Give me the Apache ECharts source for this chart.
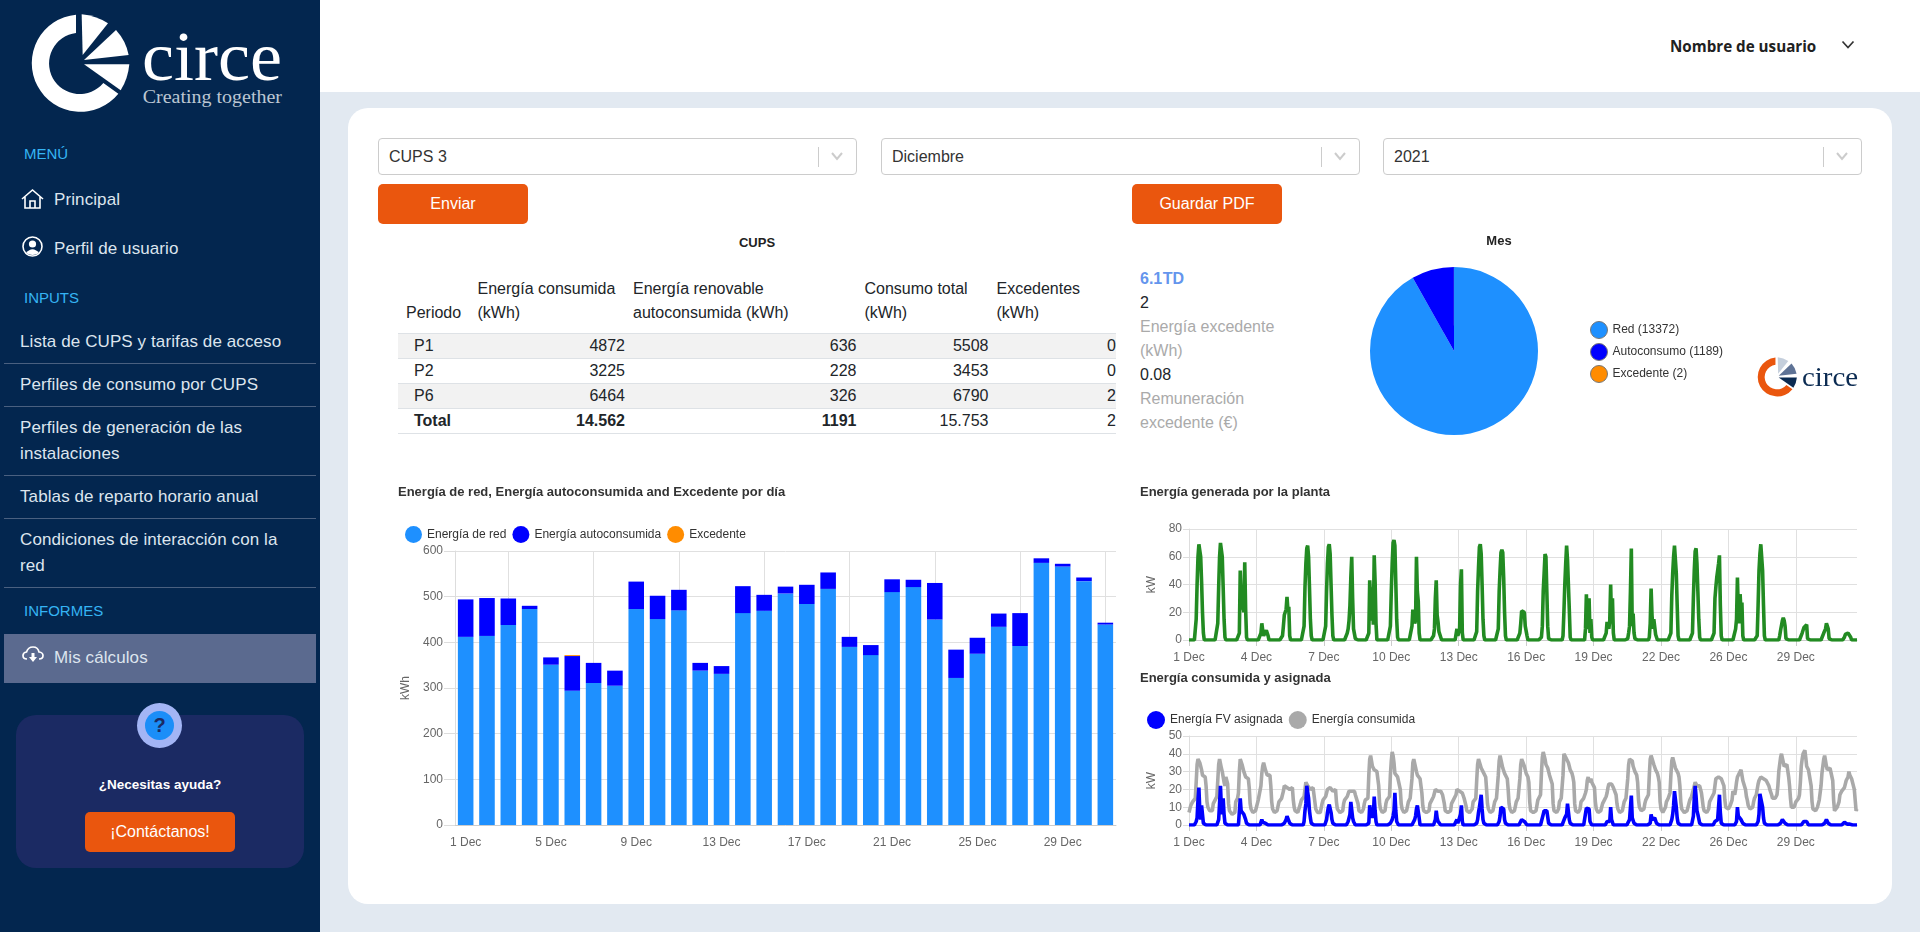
<!DOCTYPE html>
<html lang="es">
<head>
<meta charset="utf-8">
<title>circe</title>
<script src="https://cdn.jsdelivr.net/npm/echarts@6/dist/echarts.min.js"></script>
<style>
html, body { margin: 0; padding: 0; width: 1920px; height: 932px; overflow: hidden; background: #e2e9f1; font-family: "Liberation Sans", Arial, sans-serif; color: #212529; }
div, span, svg, table { position: absolute; }
td span, th span { position: static; }
.sidebar { left: 0; top: 0; width: 320px; height: 932px; background: #03264f; }
.head { left: 320px; top: 0; width: 1600px; height: 92px; background: #fff; }
.card { left: 348px; top: 108px; width: 1544px; height: 796px; background: #fff; border-radius: 20px; }
.sec { left: 24px; color: #35b4f4; font-size: 15px; line-height: 18px; white-space: nowrap; }
.nav { left: 20px; width: 296px; color: #dde5ee; font-size: 17px; letter-spacing: 0.1px; line-height: 25.5px; white-space: nowrap; }
.hr { left: 4px; width: 312px; height: 1px; background: #4a6080; }
.sel { height: 35px; top: 138px; width: 477px; border: 1px solid #ccc; border-radius: 4px; background: #fff; }
.sel b { position: absolute; left: 10px; top: 0; line-height: 35px; font-weight: normal; font-size: 16px; color: #333; }
.sel i { position: absolute; right: 37px; top: 8px; width: 1px; height: 20px; background: #ccc; }
.btn { top: 184px; height: 40px; line-height: 40px; text-align: center; color: #fff; font-size: 16px; background: #ea560e; border-radius: 5px; }
table { left: 398px; top: 277px; width: 718px; border-collapse: collapse; table-layout: fixed; font-size: 16px; color: #212529; }
th { font-weight: normal; text-align: left; padding: 0 0 0 8px; line-height: 24px; height: 56px; vertical-align: bottom; box-sizing: border-box; padding-bottom: 8px; }
td { text-align: right; padding: 0; height: 25px; line-height: 24px; box-sizing: border-box; border-top: 1px solid #dee2e6; }
td:first-child { text-align: left; padding-left: 16px; }
tr.odd td { background: #f2f2f2; }
tr.tot td { border-bottom: 1px solid #dee2e6; }
.info { left: 1140px; font-size: 16px; line-height: 24px; white-space: nowrap; }
.chart { background: transparent; }
</style>
</head>
<body>
<div class="sidebar"></div>
<div class="head"></div>
<div class="card"></div>

<svg style="left:20px;top:5px" width="280" height="120" viewBox="0 0 840 360">
  <path fill="#fff" d="M168 29 A146 146 0 1 0 295 266 L250 234 A92 92 0 1 1 168 84 Z"/>
  <path fill="#fff" d="M185 28 Q228 32 264 55 L188 150 Z"/>
  <path fill="#fff" d="M192 165 L288 75 Q318 108 326 150 Z"/>
  <path fill="#fff" d="M192 178 L328 178 Q324 222 302 256 Z"/>
  <text x="366" y="225" font-family="Liberation Serif" font-size="212" fill="#fff" textLength="420" lengthAdjust="spacingAndGlyphs">circe</text>
  <text x="368" y="295" font-family="Liberation Serif" font-size="56" fill="#bcc6d3" textLength="418" lengthAdjust="spacingAndGlyphs">Creating together</text>
</svg>

<div class="sec" style="top:145px">MENÚ</div>
<svg style="left:21px;top:188px" width="23" height="22" viewBox="0 0 23 22" fill="none" stroke="#fff" stroke-width="1.6"><path d="M1 11 L11.5 2 L22 11 M4 9 V20 H19 V9 M9 20 V13 H14 V20"/></svg>
<div class="nav" style="left:54px;top:187px">Principal</div>
<svg style="left:22px;top:236px" width="21" height="21" viewBox="0 0 21 21"><circle cx="10.5" cy="10.5" r="9.5" fill="none" stroke="#fff" stroke-width="1.6"/><circle cx="10.5" cy="8" r="3.6" fill="#fff"/><path fill="#fff" d="M4 17 Q10.5 9.5 17 17 Q10.5 21 4 17Z"/></svg>
<div class="nav" style="left:54px;top:236px">Perfil de usuario</div>
<div class="sec" style="top:289px">INPUTS</div>
<div class="nav" style="top:329px">Lista de CUPS y tarifas de acceso</div>
<div class="hr" style="top:363px"></div>
<div class="nav" style="top:372px">Perfiles de consumo por CUPS</div>
<div class="hr" style="top:406px"></div>
<div class="nav" style="top:415px">Perfiles de generación de las<br>instalaciones</div>
<div class="hr" style="top:475px"></div>
<div class="nav" style="top:484px">Tablas de reparto horario anual</div>
<div class="hr" style="top:518px"></div>
<div class="nav" style="top:527px">Condiciones de interacción con la<br>red</div>
<div class="hr" style="top:587px"></div>
<div class="sec" style="top:602px">INFORMES</div>
<div style="left:4px;top:634px;width:312px;height:49px;background:#5b6a8f"></div>
<svg style="left:22px;top:646px" width="22" height="18" viewBox="0 0 22 18"><path fill="none" stroke="#fff" stroke-width="1.7" d="M5 13 Q1 13 1 9.5 Q1 6.5 4.5 6 Q6 1 11 1 Q16 1 17 6 Q21 6.5 21 9.5 Q21 13 17 13"/><path fill="#fff" d="M9.5 7 H12.5 V11 H15 L11 16 L7 11 H9.5 Z"/></svg>
<div class="nav" style="left:54px;top:645px">Mis cálculos</div>

<div style="left:16px;top:715px;width:288px;height:153px;background:#1b2a63;border-radius:20px"></div>
<div style="left:137px;top:703px;width:45px;height:45px;border-radius:50%;background:#a3b5f5"></div>
<div style="left:145px;top:711px;width:29px;height:29px;border-radius:50%;background:#1b8ef8;color:#1b2a63;font-size:20px;font-weight:bold;line-height:29px;text-align:center">?</div>
<div style="left:16px;top:776px;width:288px;text-align:center;color:#fff;font-weight:bold;font-size:13.5px;line-height:18px">¿Necesitas ayuda?</div>
<div style="left:85px;top:812px;width:150px;height:40px;line-height:40px;border-radius:5px;background:#ea560e;color:#fff;font-size:16px;text-align:center">¡Contáctanos!</div>

<div style="left:1670px;top:35px;font-family:'Open Sans';font-weight:700;font-size:15.2px;line-height:22px;color:#212121;white-space:nowrap">Nombre de usuario</div>
<svg style="left:1841px;top:40px" width="14" height="10" viewBox="0 0 14 10" fill="none" stroke="#333" stroke-width="1.7"><path d="M1.5 1.5 L7 7.5 L12.5 1.5"/></svg>

<div class="sel" style="left:378px"><b>CUPS 3</b><i></i><svg style="right:13px;top:13px" width="12" height="9" viewBox="0 0 12 9" fill="none" stroke="#ccc" stroke-width="2"><path d="M1 1 L6 7 L11 1"/></svg></div>
<div class="sel" style="left:881px"><b>Diciembre</b><i></i><svg style="right:13px;top:13px" width="12" height="9" viewBox="0 0 12 9" fill="none" stroke="#ccc" stroke-width="2"><path d="M1 1 L6 7 L11 1"/></svg></div>
<div class="sel" style="left:1383px"><b>2021</b><i></i><svg style="right:13px;top:13px" width="12" height="9" viewBox="0 0 12 9" fill="none" stroke="#ccc" stroke-width="2"><path d="M1 1 L6 7 L11 1"/></svg></div>
<div class="btn" style="left:378px;width:150px">Enviar</div>
<div class="btn" style="left:1132px;width:150px">Guardar PDF</div>

<div style="left:397px;top:235px;width:720px;text-align:center;font-weight:bold;font-size:13px;line-height:16px;color:#222">CUPS</div>
<table>
  <colgroup><col style="width:71.5px"><col style="width:155.5px"><col style="width:231.5px"><col style="width:132px"><col style="width:127.5px"></colgroup>
  <tr><th style="vertical-align:bottom">Periodo</th><th>Energía consumida (kWh)</th><th>Energía renovable<br>autoconsumida (kWh)</th><th>Consumo total<br>(kWh)</th><th>Excedentes<br>(kWh)</th></tr>
  <tr class="odd"><td>P1</td><td>4872</td><td>636</td><td>5508</td><td>0</td></tr>
  <tr><td>P2</td><td>3225</td><td>228</td><td>3453</td><td>0</td></tr>
  <tr class="odd"><td>P6</td><td>6464</td><td>326</td><td>6790</td><td>2</td></tr>
  <tr class="tot"><td><b>Total</b></td><td><b>14.562</b></td><td><b>1191</b></td><td>15.753</td><td>2</td></tr>
</table>

<div class="info" style="top:267px;color:#6495ed;font-weight:bold;word-spacing:-4px">6.1 TD</div>
<div class="info" style="top:291px">2</div>
<div class="info" style="top:315px;color:#aaa">Energía excedente<br>(kWh)</div>
<div class="info" style="top:363px">0.08</div>
<div class="info" style="top:387px;color:#aaa">Remuneración<br>excedente (€)</div>

<div class="chart" id="pie_mes" style="left:1290px;top:232px;width:470px;height:210px"></div>
<svg style="left:1757px;top:356px" width="103" height="42" viewBox="30 20 770 310">
  <path fill="#ea560e" d="M168 29 A146 146 0 1 0 295 266 L250 234 A92 92 0 1 1 168 84 Z"/>
  <path fill="#c5cfdc" d="M185 28 Q228 32 264 55 L188 150 Z"/>
  <path fill="#5f7396" d="M192 165 L288 75 Q318 108 326 150 Z"/>
  <path fill="#0b2b52" d="M192 178 L328 178 Q324 222 302 256 Z"/>
  <text x="366" y="240" font-family="Liberation Serif" font-size="212" fill="#0b2b52" textLength="420" lengthAdjust="spacingAndGlyphs">circe</text>
</svg>

<div class="chart" id="bar_dia" style="left:390px;top:475px;width:735px;height:385px"></div>
<div class="chart" id="line_gen" style="left:1125px;top:475px;width:745px;height:197px"></div>
<div class="chart" id="line_con" style="left:1125px;top:665px;width:745px;height:195px"></div>

<script>
var dayLabels = ['1 Dec','2 Dec','3 Dec','4 Dec','5 Dec','6 Dec','7 Dec','8 Dec','9 Dec','10 Dec','11 Dec','12 Dec','13 Dec','14 Dec','15 Dec','16 Dec','17 Dec','18 Dec','19 Dec','20 Dec','21 Dec','22 Dec','23 Dec','24 Dec','25 Dec','26 Dec','27 Dec','28 Dec','29 Dec','30 Dec','31 Dec'];

var energiaRed = [412,414,438,473,351,294,311,305,473,451,470,338,331,464,469,507,484,517,390,372,510,521,450,322,375,434,392,574,566,534,439];
var energiaAuto = [82,83,58,7,16,76,44,33,60,51,45,17,17,59,35,15,42,36,22,22,28,16,80,62,35,29,72,10,6,8,4];
var energiaExc = [0,0,0,0,0,2,0,0,0,0,0,0,0,0,0,0,0,0,0,0,0,0,0,0,0,0,0,0,0,0,0];

var pieNames = ['Red (13372)', 'Autoconsumo (1189)', 'Excedente (2)'];
var pieValues = [13372, 1189, 2];

// hourly kW, one line per day
var generada = [
0,0,0,0,0,0,0,1,15,40,60,69,69,60,42,20,5,0,0,0,0,0,0,0,
0,0,0,0,0,0,0,0,12,38,60,70,70,60,38,15,2,0,0,0,0,0,0,0,
0,0,0,0,0,0,0,0,5,50,30,22,25,20,56,22,2,0,0,0,0,0,0,0,
0,0,0,0,0,0,0,0,5,12,7,3,3,4,7,8,3,0,0,0,0,0,0,0,
0,0,0,0,0,0,0,0,3,10,18,19,22,31,22,24,3,0,0,0,0,0,0,0,
0,0,0,0,0,0,0,0,10,38,55,66,68,60,38,15,3,0,0,0,0,0,0,0,
0,0,0,0,0,0,0,0,10,35,55,67,69,62,40,18,3,0,0,0,0,0,0,0,
0,0,0,0,0,0,0,0,5,8,14,25,45,60,30,8,7,1,0,0,0,0,0,0,
0,0,0,0,0,0,0,0,5,43,30,14,38,11,61,42,12,0,0,0,0,0,0,0,
0,0,0,0,0,0,0,0,10,35,55,70,72,68,42,15,2,0,0,0,0,0,0,0,
0,0,0,0,0,0,0,0,10,22,23,12,14,60,35,28,5,0,0,0,0,0,0,0,
0,0,0,0,0,0,0,0,3,8,30,43,18,13,6,5,2,0,0,0,0,0,0,0,
0,0,0,0,0,0,0,0,0,1,8,3,4,8,40,51,5,0,0,0,0,0,0,0,
0,0,0,0,0,0,0,0,6,35,52,67,69,62,40,15,3,0,0,0,0,0,0,0,
0,0,0,0,0,0,0,0,8,35,50,63,65,63,45,20,3,0,0,0,0,0,0,0,
0,0,0,0,0,0,0,0,5,12,21,22,20,20,10,11,3,0,0,0,0,0,0,0,
0,0,0,0,0,0,0,0,2,10,35,48,62,60,35,10,1,0,0,0,0,0,0,0,
0,0,0,0,0,0,0,0,3,20,40,55,68,58,40,22,2,0,0,0,0,0,0,0,
0,0,0,0,0,0,0,0,0,8,33,12,8,30,5,15,2,0,0,0,0,0,0,0,
0,0,0,0,0,0,0,0,5,13,12,8,14,40,12,30,5,0,0,0,0,0,0,0,
0,0,0,0,0,0,0,0,1,5,10,35,66,10,19,5,1,0,0,0,0,0,0,0,
0,0,0,0,0,0,0,0,2,12,37,18,8,15,14,4,3,0,0,0,0,0,0,0,
0,0,0,0,0,0,0,0,5,32,48,60,68,67,48,25,3,0,0,0,0,0,0,0,
0,0,0,0,0,0,0,0,5,30,50,64,66,55,35,15,2,0,0,0,0,0,0,0,
0,0,0,0,0,0,0,0,5,30,38,45,50,55,61,25,3,0,0,0,0,0,0,0,
0,0,0,0,0,0,0,0,8,15,45,20,12,33,20,27,3,0,0,0,0,0,0,0,
0,0,0,0,0,0,0,0,3,25,50,62,69,69,50,25,3,0,0,0,0,0,0,0,
0,0,0,0,0,0,0,0,0,3,7,8,14,16,14,10,1,0,0,0,0,0,0,0,
0,0,0,0,0,0,0,0,0,1,5,6,9,10,8,11,1,0,0,0,0,0,0,0,
0,0,0,0,0,0,0,0,0,1,5,6,8,12,13,8,1,0,0,0,0,0,0,0,
0,0,0,0,0,0,0,0,0,2,4,5,5,5,5,6,2,0,0,0,0,0,0,0
];

var asignada = [
0,0,0,0,0,0,0,0,2,4,14,21,8,3,11,6,1,0,0,0,0,0,0,0,
0,0,0,0,0,0,0,0,1,3,12,22,10,6,15,6,1,0,0,0,0,0,0,0,
0,0,0,0,0,0,0,0,1,15,8,7,7,6,6,3,1,0,0,0,0,0,0,0,
0,0,0,0,0,0,0,0,1,3,1.5,1,1,1,1,1,0,0,0,0,0,0,0,0,
0,0,0,0,0,0,0,0,0,0,1,2,3,5,5,5,1,0,0,0,0,0,0,0,
0,0,0,0,0,0,0,0,2,8,12,22,22,15,8,4,1,0,0,0,0,0,0,0,
0,0,0,0,0,0,0,0,1,3,7,10,11.5,11,7,3,1,0,0,0,0,0,0,0,
0,0,0,0,0,0,0,0,0,2,3,6,13,12,4,2,1,0,0,0,0,0,0,0,
0,0,0,0,0,0,0,0,1,11,8,4,7,4,16,8,2,0,0,0,0,0,0,0,
0,0,0,0,0,0,0,0,1,2,3,5,8,18,8,2,1,0,0,0,0,0,0,0,
0,0,0,0,0,0,0,0,0,1,1,3,5,9,11,11,4,0,0,0,0,0,0,0,
0,0,0,0,0,0,0,0,0,1,3,8,4,2,1,1,0,0,0,0,0,0,0,0,
0,0,0,0,0,0,0,0,0,0,3,1,1,2,6,11,2,0,0,0,0,0,0,0,
0,0,0,0,0,0,0,0,1,3,7,10,10,17,9,3,1,0,0,0,0,0,0,0,
0,0,0,0,0,0,0,0,1,2,5,10,10,9,9,3,1,0,0,0,0,0,0,0,
0,0,0,0,0,0,0,0,0,1,3,4,3,2,1,1,0,0,0,0,0,0,0,0,
0,0,0,0,0,0,0,0,0,1,6,8,8,8,8,8,1,0,0,0,0,0,0,0,
0,0,0,0,0,0,0,0,0,1,4,5,6,12,11,3,1,0,0,0,0,0,0,0,
0,0,0,0,0,0,0,0,0,1,9.5,9,9,9,2,1,0,0,0,0,0,0,0,0,
0,0,0,0,0,0,0,0,0,2,1,1,2,10,3,2,0,0,0,0,0,0,0,0,
0,0,0,0,0,0,0,0,0,1,3,4,16.5,4,3,1,0,0,0,0,0,0,0,0,
0,0,0,0,0,0,0,0,0,1,6,3,2,2,4,4,1,0,0,0,0,0,0,0,
0,0,0,0,0,0,0,0,1,3,6,11,19,19,10,4,1,0,0,0,0,0,0,0,
0,0,0,0,0,0,0,0,1,5,15,22,16,8,6,5,1,0,0,0,0,0,0,0,
0,0,0,0,0,0,0,0,0,2,2,2,3,10,17,7,1,0,0,0,0,0,0,0,
0,0,0,0,0,0,0,0,0,2,10,5,4,4,3,2,1,0,0,0,0,0,0,0,
0,0,0,0,0,0,0,0,0,2,6,17.5,17,17,10,4,1,0,0,0,0,0,0,0,
0,0,0,0,0,0,0,0,0,0,1,2,3,3,2,1,0,0,0,0,0,0,0,0,
0,0,0,0,0,0,0,0,0,0,0,0,2,1,1,2,1,0,0,0,0,0,0,0,
0,0,0,0,0,0,0,0,0,0,0,1,2,3,2,1,0,0,0,0,0,0,0,0,
0,0,0,0,0,0,0,0,0,1.5,0.5,0.5,0.5,0.5,0.5,0.5,1.5,0,0,0,0,0,0,0
];

var consumida = [
7,8,11,12,13,14,14,15,24,34,37,38,35,33,31,28,27,28,27,22,13,10,9,8,
7,8,8,12,13,14,15,16,25,34,37,37,32,30,31,24,22,27,28,23,12,8,7,7,
6,6,7,7,13,14,15,18,30,37,37,34,33,30,31,27,27,26,26,21,12,9,8,7,
7,7,8,8,12,14,14,15,22,29,33,35,34,31,30,28,27,28,28,22,13,9,8,7,
7,7,8,9,13,14,14,15,16,19,22,23,21,21,22,21,20,21,20,21,14,10,8,8,
7,7,8,8,12,14,14,15,16,20,24,25,22,21,22,20,21,20,21,20,13,9,8,7,
7,7,7,8,12,14,14,15,16,18,20,21,21,21,20,21,19,20,19,20,13,9,8,8,
7,7,8,8,12,14,14,15,16,17,19,20,20,19,19,18,19,17,17,16,12,8,8,7,
7,8,9,12,14,14,15,15,28,37,39,39,33,33,31,30,31,30,29,22,12,9,8,7,
6,7,8,12,14,14,15,16,28,36,41,39,35,29,28,28,27,27,27,20,12,9,8,7,
7,7,8,8,13,14,15,16,26,35,37,38,37,30,28,27,27,26,26,18,11,8,8,7,
7,7,8,8,12,13,14,15,16,18,20,21,20,19,19,20,19,19,17,16,12,8,8,7,
7,7,8,8,12,13,14,14,15,17,20,21,20,19,19,18,18,17,15,14,11,8,8,7,
7,7,8,9,13,14,14,15,25,34,37,37,37,32,31,30,30,30,27,20,12,9,8,7,
7,7,8,9,13,14,15,16,28,36,39,40,38,32,31,29,29,29,26,20,12,9,8,7,
7,7,8,9,13,14,15,16,26,34,37,38,37,33,33,29,28,27,24,13,8,8,7,7,
7,7,8,11,14,14,15,17,29,38,41,40,37,34,33,32,30,28,27,27,23,12,8,7,
7,7,8,9,13,14,15,16,28,40,41,38,38,37,35,33,31,30,29,27,24,12,8,7,
7,7,8,9,13,14,14,15,16,18,20,25,27,24,25,26,24,25,24,21,13,9,8,7,
7,7,8,8,12,13,14,15,16,18,21,23,24,23,23,22,21,21,20,17,12,9,8,7,
7,7,8,9,13,14,15,16,26,34,37,38,38,36,33,32,30,30,28,24,14,10,9,8,
8,8,9,12,14,14,15,17,28,37,39,39,40,34,33,31,30,29,27,24,13,9,8,7,
7,8,10,13,14,15,16,18,28,36,38,39,37,32,33,33,29,27,22,13,9,8,8,7,
7,7,8,9,12,14,15,16,17,20,22,24,23,22,23,21,22,20,18,14,10,8,7,7,
7,7,9,13,14,15,15,16,18,22,26,26,26,27,27,26,26,25,25,22,14,10,9,9,
9,10,11,12,14,19,19,17,20,24,27,28,29,30,31,28,25,24,24,20,16,14,11,10,
9,9,9,10,13,15,16,17,18,23,25,26,27,27,27,26,26,26,25,24,24,22,20,19,
17,15,14,14,15,16,17,22,30,34,38,40,40,40,33,34,33,34,33,27,22,15,10,9,
10,10,11,13,14,14,15,17,24,33,37,40,41,42,38,33,32,31,28,28,22,13,9,8,
8,8,9,10,12,14,15,22,29,33,37,39,36,33,31,32,31,32,33,32,25,14,8,8,
9,10,11,13,17,17,19,18,19,21,22,25,26,27,30,28,27,26,25,25,20,14,8,9
];

var colorRed = '#1e90ff', colorAuto = '#0000ff', colorExc = '#ff8c00', colorGen = '#228b22', colorCon = '#a9a9a9';
var fontName = '"Liberation Sans", Arial, sans-serif';

var hourLabels = [];
dayLabels.forEach(function (d) {
    for (var h = 0; h < 24; h++) {
        hourLabels.push(d);
    }
});

function titleOf(text, left, top) {
    return {
        text: text,
        left: left,
        top: top,
        padding: 0,
        textStyle: { fontSize: 13, fontWeight: 'bold', color: '#333', fontFamily: fontName }
    };
}

function yAxisOf(max, interval, name, tickLen, gap) {
    return {
        type: 'value',
        min: 0,
        max: max,
        interval: interval,
        name: name,
        nameLocation: 'middle',
        nameGap: gap,
        nameTextStyle: { color: '#666', fontSize: 12 },
        axisLine: { show: true, lineStyle: { color: '#ddd' } },
        axisTick: { show: true, length: tickLen, lineStyle: { color: '#ddd' } },
        axisLabel: { color: '#666', fontSize: 12, margin: tickLen + 1 },
        splitLine: { lineStyle: { color: '#e0e0e0' } }
    };
}

function hourAxis() {
    return {
        type: 'category',
        data: hourLabels,
        boundaryGap: false,
        axisLine: { lineStyle: { color: '#ccc' } },
        axisTick: { interval: 74, length: 6, lineStyle: { color: '#ccc' } },
        axisLabel: { interval: 74, color: '#666', fontSize: 12, margin: 12, hideOverlap: false },
        splitLine: { show: true, interval: 74, lineStyle: { color: '#e0e0e0' } }
    };
}

function lineOf(name, values, color, z) {
    return {
        name: name,
        type: 'line',
        data: values,
        z: z,
        showSymbol: false,
        lineStyle: { color: color, width: 3.6 },
        itemStyle: { color: color }
    };
}

function everyFourth(idx) {
    return idx % 4 === 2;
}

var bar = echarts.init(document.getElementById('bar_dia'));
bar.setOption({
    animation: false,
    textStyle: { fontFamily: fontName },
    title: titleOf('Energía de red, Energía autoconsumida and Excedente por día', 8, 11),
    legend: {
        left: 15, top: 51, padding: 0, itemGap: 6, itemWidth: 17, itemHeight: 17, icon: 'circle',
        textStyle: { fontSize: 12, color: '#333' },
        data: ['Energía de red', 'Energía autoconsumida', 'Excedente']
    },
    grid: { left: 65, right: 9, top: 76, bottom: 35 },
    xAxis: {
        type: 'category',
        data: dayLabels,
        axisLine: { lineStyle: { color: '#ccc' } },
        axisTick: { alignWithLabel: true, interval: everyFourth, length: 8, lineStyle: { color: '#ccc' } },
        axisLabel: { interval: 3, color: '#666', fontSize: 12, margin: 12, hideOverlap: false },
        splitLine: { show: true, alignWithLabel: true, interval: everyFourth, lineStyle: { color: '#e0e0e0' } }
    },
    yAxis: yAxisOf(600, 100, 'kWh', 11, 36),
    series: [
        { name: 'Energía de red', type: 'bar', stack: 'dia', barCategoryGap: '27%', data: energiaRed, itemStyle: { color: colorRed } },
        { name: 'Energía autoconsumida', type: 'bar', stack: 'dia', data: energiaAuto, itemStyle: { color: colorAuto } },
        { name: 'Excedente', type: 'bar', stack: 'dia', data: energiaExc, itemStyle: { color: colorExc } }
    ]
});

var gen = echarts.init(document.getElementById('line_gen'));
gen.setOption({
    animation: false,
    textStyle: { fontFamily: fontName },
    title: titleOf('Energía generada por la planta', 15, 11),
    grid: { left: 64, right: 13, top: 54, bottom: 32 },
    xAxis: hourAxis(),
    yAxis: yAxisOf(80, 20, 'kW', 6, 31),
    series: [lineOf('Energía generada', generada, colorGen, 2)]
});

var con = echarts.init(document.getElementById('line_con'));
con.setOption({
    animation: false,
    textStyle: { fontFamily: fontName },
    title: titleOf('Energía consumida y asignada', 15, 7),
    legend: {
        left: 22, top: 46, padding: 0, itemGap: 6, itemWidth: 18, itemHeight: 18, icon: 'circle',
        textStyle: { fontSize: 12, color: '#333' },
        data: ['Energía FV asignada', 'Energía consumida']
    },
    grid: { left: 64, right: 13, top: 71, bottom: 35 },
    xAxis: hourAxis(),
    yAxis: yAxisOf(50, 10, 'kW', 6, 31),
    series: [
        lineOf('Energía FV asignada', asignada, colorAuto, 3),
        lineOf('Energía consumida', consumida, colorCon, 2)
    ]
});

var pie = echarts.init(document.getElementById('pie_mes'));
pie.setOption({
    animation: false,
    textStyle: { fontFamily: fontName },
    title: { text: 'Mes', left: 209, top: 3, padding: 0, textAlign: 'center', textStyle: { fontSize: 13, fontWeight: 'bold', color: '#222', fontFamily: fontName } },
    color: [colorRed, colorAuto, colorExc],
    legend: {
        orient: 'vertical', left: 300, top: 89, padding: 0, itemGap: 4, itemWidth: 17, itemHeight: 17, icon: 'circle',
        itemStyle: { borderColor: '#777', borderWidth: 1 },
        textStyle: { fontSize: 12, color: '#333' },
        data: pieNames
    },
    series: [{
        type: 'pie',
        center: [164, 119],
        radius: 84,
        label: { show: false },
        labelLine: { show: false },
        data: pieNames.map(function (n, i) {
            return { name: n, value: pieValues[i] };
        })
    }]
});
</script>
</body>
</html>
